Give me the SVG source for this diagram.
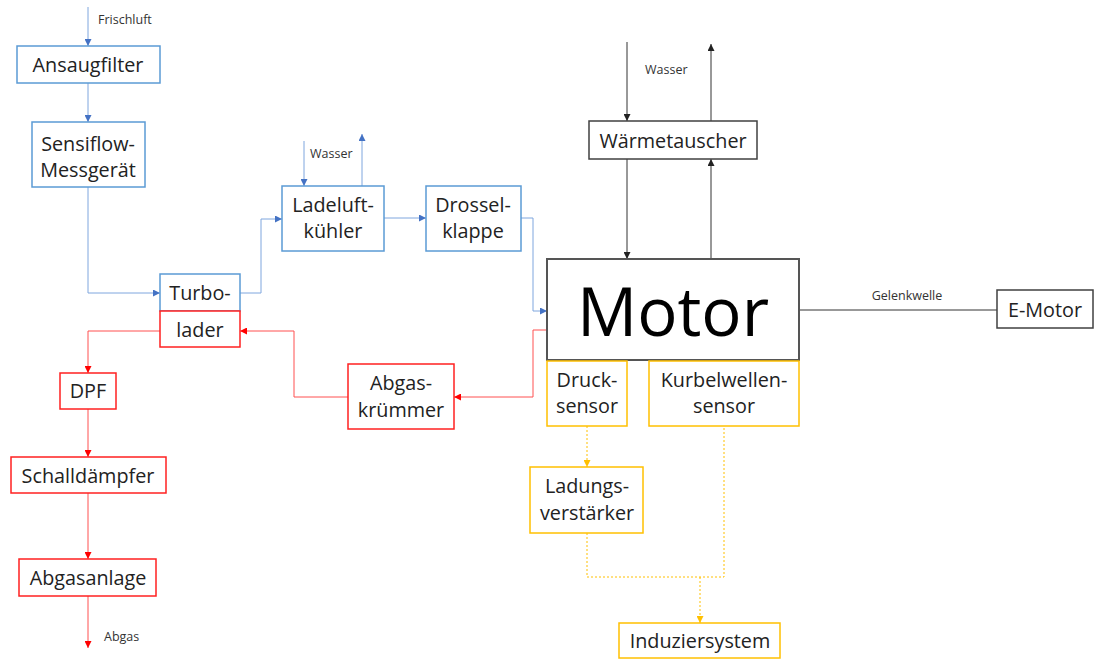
<svg xmlns="http://www.w3.org/2000/svg" width="1095" height="659" viewBox="0 0 1095 659">
<style>
text{font-family:"Open Sans",Lato,"Liberation Sans",sans-serif;fill:#222;}
.t{font-size:19.8px;text-anchor:middle;}
.s{font-size:12.5px;fill:#333;}
.bb{fill:#fff;stroke:#5B9BD5;stroke-width:1.5;}
.rb{fill:#fff;stroke:#FF2020;stroke-width:1.5;}
.yb{fill:#fff;stroke:#FFC000;stroke-width:1.5;}
.kb{fill:#fff;stroke:#404040;stroke-width:1.5;}
.bl{fill:none;stroke:#7FA6DE;stroke-width:1;}
.rl{fill:none;stroke:#FF5050;stroke-width:1;}
.yl{fill:none;stroke:#FFC000;stroke-width:1;stroke-dasharray:2,2;}
.kl{fill:none;stroke:#333;stroke-width:1;}
</style>
<defs>
<marker id="ab" viewBox="0 0 10 10" refX="10" refY="5" markerWidth="7" markerHeight="7" orient="auto" markerUnits="userSpaceOnUse"><path d="M0,0L10,5L0,10z" fill="#4472C4"/></marker>
<marker id="ar" viewBox="0 0 10 10" refX="10" refY="5" markerWidth="7" markerHeight="7" orient="auto" markerUnits="userSpaceOnUse"><path d="M0,0L10,5L0,10z" fill="#FF0000"/></marker>
<marker id="ay" viewBox="0 0 10 10" refX="10" refY="5" markerWidth="7" markerHeight="7" orient="auto" markerUnits="userSpaceOnUse"><path d="M0,0L10,5L0,10z" fill="#FFC000"/></marker>
<marker id="ak" viewBox="0 0 10 10" refX="10" refY="5" markerWidth="7" markerHeight="7" orient="auto" markerUnits="userSpaceOnUse"><path d="M0,0L10,5L0,10z" fill="#222"/></marker>
</defs>
<g id="connectors">
<path class="bl" d="M88,7V46" marker-end="url(#ab)"/>
<path class="bl" d="M88,83V122" marker-end="url(#ab)"/>
<path class="bl" d="M88,187V293H160" marker-end="url(#ab)"/>
<path class="bl" d="M240,293H261V219H282" marker-end="url(#ab)"/>
<path class="bl" d="M304,141V186" marker-end="url(#ab)"/>
<path class="bl" d="M362,186V134" marker-end="url(#ab)"/>
<path class="bl" d="M384,218H426" marker-end="url(#ab)"/>
<path class="bl" d="M521,218H533V311H547" marker-end="url(#ab)"/>
<path class="kl" d="M627,42V121" marker-end="url(#ak)"/>
<path class="kl" d="M627,159V259" marker-end="url(#ak)"/>
<path class="kl" d="M711,259V159" marker-end="url(#ak)"/>
<path class="kl" d="M711,121V44" marker-end="url(#ak)"/>
<path class="kl" d="M799,310H997" stroke="#555"/>
<path class="rl" d="M547,330H533V397H454" marker-end="url(#ar)"/>
<path class="rl" d="M348,397H294V331H240" marker-end="url(#ar)"/>
<path class="rl" d="M160,331H88V373" marker-end="url(#ar)"/>
<path class="rl" d="M88,409V457" marker-end="url(#ar)"/>
<path class="rl" d="M88,493V559" marker-end="url(#ar)"/>
<path class="rl" d="M88,596V648" marker-end="url(#ar)"/>
<path class="yl" d="M587,426V467" marker-end="url(#ay)"/>
<path class="yl" d="M587,533V577H724V426"/>
<path class="yl" d="M700,577V623" marker-end="url(#ay)"/>
<text class="s" x="98" y="24">Frischluft</text>
<text class="s" x="310" y="158">Wasser</text>
<text class="s" x="645" y="74">Wasser</text>
<text class="s" x="907" y="300" text-anchor="middle">Gelenkwelle</text>
<text class="s" x="104" y="641">Abgas</text>
</g>
<g id="ansaugfilter"><rect class="bb" x="17" y="46" width="143" height="37"/><text class="t" x="88" y="72">Ansaugfilter</text></g>
<g id="sensiflow"><rect class="bb" x="32" y="122" width="113" height="65"/><text class="t" x="88" y="151">Sensiflow-</text><text class="t" x="88" y="177">Messgerät</text></g>
<g id="turbo"><rect class="bb" x="160" y="274" width="80" height="37"/><text class="t" x="200" y="300">Turbo-</text></g>
<g id="lader"><rect class="rb" x="160" y="311" width="80" height="36"/><text class="t" x="200" y="337">lader</text></g>
<g id="ladeluftkuehler"><rect class="bb" x="282" y="186" width="102" height="65"/><text class="t" x="333" y="212">Ladeluft-</text><text class="t" x="333" y="238">kühler</text></g>
<g id="drosselklappe"><rect class="bb" x="426" y="186" width="95" height="65"/><text class="t" x="473" y="212">Drossel-</text><text class="t" x="473" y="238">klappe</text></g>
<g id="waermetauscher"><rect class="kb" x="589" y="121" width="168" height="38"/><text class="t" x="673" y="148">Wärmetauscher</text></g>
<g id="motor"><rect class="kb" x="547" y="259" width="252" height="101" style="stroke:#555;stroke-width:2"/><text x="673" y="336" text-anchor="middle" style="font-size:67px;fill:#000;">Motor</text></g>
<g id="emotor"><rect class="kb" x="997" y="290" width="96" height="38"/><text class="t" x="1045" y="317">E-Motor</text></g>
<g id="drucksensor"><rect class="yb" x="547" y="361" width="80" height="65"/><text class="t" x="587" y="387">Druck-</text><text class="t" x="587" y="413">sensor</text></g>
<g id="kurbelwellensensor"><rect class="yb" x="649" y="361" width="150" height="65"/><text class="t" x="724" y="387">Kurbelwellen-</text><text class="t" x="724" y="413">sensor</text></g>
<g id="ladungsverstaerker"><rect class="yb" x="530" y="467" width="113" height="66"/><text class="t" x="587" y="493">Ladungs-</text><text class="t" x="587" y="520">verstärker</text></g>
<g id="induziersystem"><rect class="yb" x="619" y="623" width="161" height="35"/><text class="t" x="700" y="648">Induziersystem</text></g>
<g id="abgaskruemmer"><rect class="rb" x="348" y="364" width="106" height="65"/><text class="t" x="401" y="390">Abgas-</text><text class="t" x="401" y="417">krümmer</text></g>
<g id="dpf"><rect class="rb" x="60" y="373" width="56" height="36"/><text class="t" x="88" y="398">DPF</text></g>
<g id="schalldaempfer"><rect class="rb" x="11" y="457" width="155" height="36"/><text class="t" x="88" y="483">Schalldämpfer</text></g>
<g id="abgasanlage"><rect class="rb" x="19" y="559" width="137" height="37"/><text class="t" x="88" y="585">Abgasanlage</text></g>
</svg>
